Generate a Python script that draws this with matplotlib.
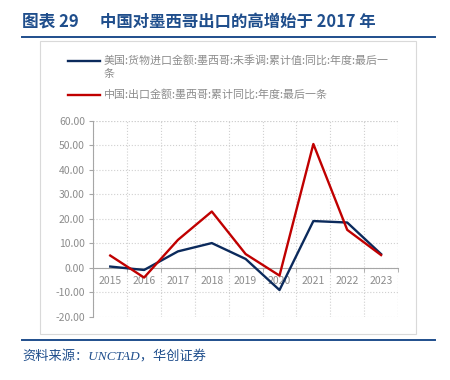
import numpy as np
import matplotlib
matplotlib.use("Agg")
import matplotlib.pyplot as plt
from matplotlib.patches import Rectangle
from matplotlib.lines import Line2D

plt.rcParams['font.family'] = ['Noto Sans CJK SC', 'DejaVu Sans']

# data
years = ["2015", "2016", "2017", "2018", "2019", "2020", "2021", "2022", "2023"]
us_imports = [0.5, -0.9, 6.7, 10.1, 3.6, -9.1, 19.1, 18.5, 5.6]
cn_exports = [5.0, -4.0, 11.4, 23.0, 5.6, -3.2, 50.6, 15.5, 5.2]
yticks = [-20, -10, 0, 10, 20, 30, 40, 50, 60]

label_us = "美国:货物进口金额:墨西哥:未季调:累计值:同比:年度:最后一\n条"
label_cn = "中国:出口金额:墨西哥:累计同比:年度:最后一条"
title_no = "图表 29"
title = "中国对墨西哥出口的高增始于 2017 年"
source = "资料来源：UNCTAD，华创证券"

navy = "#0B2A5C"
red = "#C00000"
header_blue = "#1F4E8C"
gray_txt = "#8C8C8C"

fig = plt.figure(figsize=(4.5, 3.8), dpi=100)
W, H = 450, 380

def fx(px):
   return px / W

def fy(py):
   return 1 - py / H

# header / footer
fig.text(fx(22), fy(22), title_no, fontsize=12, fontweight="bold",
         color=header_blue, va="center", ha="left")
fig.text(fx(100), fy(22), title, fontsize=11.8, fontweight="bold",
         color=header_blue, va="center", ha="left")
fig.add_artist(Line2D([fx(22), fx(435)], [fy(37), fy(37)], color=header_blue, lw=1.4))
fig.add_artist(Line2D([fx(22), fx(435)], [fy(340), fy(340)], color=header_blue, lw=1.4))
fig.text(fx(22), fy(357), source, fontsize=9.5, color=header_blue, va="center",
         ha="left", style="italic", family=["Liberation Serif", "Noto Sans CJK SC"])

# chart frame
fig.add_artist(Rectangle((fx(40), fy(334)), fx(416) - fx(40), fy(41) - fy(334),
                         transform=fig.transFigure, fill=False,
                         edgecolor="#D9D9D9", lw=0.8))

ax = fig.add_axes([fx(93.3), fy(316.7), fx(398) - fx(93.3), fy(121) - fy(316.7)])
x = np.arange(len(years))
l_us, = ax.plot(x, us_imports, color=navy, lw=1.7, zorder=3)
l_cn, = ax.plot(x, cn_exports, color=red, lw=1.7, zorder=4)

ax.set_xlim(-0.5, len(years) - 0.5)
ax.set_ylim(-20, 60)
ax.set_yticks(yticks)
ax.set_yticklabels([f"{v:.2f}" for v in yticks])
ax.set_xticks(x)
ax.set_xticklabels(years)
ax.set_xticks(np.arange(-0.5, len(years)), minor=True)

ax.tick_params(axis="x", which="major", length=0, pad=6, labelsize=7.5, labelcolor=gray_txt)
ax.tick_params(axis="x", which="minor", length=3, direction="out", color="#A6A6A6")
ax.tick_params(axis="y", length=3, direction="out", color="#A6A6A6", pad=3,
               labelsize=7.5, labelcolor=gray_txt)

ax.grid(axis="y", which="major", linestyle=":", color="#D0D0D0", lw=0.8)
ax.grid(axis="x", which="minor", linestyle=":", color="#D0D0D0", lw=0.8)

for s in ["top", "right"]:
   ax.spines[s].set_visible(False)
ax.spines["bottom"].set_position(("data", 0))
ax.spines["bottom"].set_color("#A6A6A6")
ax.spines["left"].set_color("#A6A6A6")
ax.axhline(60, color="#D0D0D0", linestyle=":", lw=0.8)
ax.axvline(len(years) - 0.5, color="#D0D0D0", linestyle=":", lw=0.8)

# legend drawn by hand so the handle sits on the first text line
for line, label, ypx in [(l_us, label_us, 61), (l_cn, label_cn, 95)]:
   fig.add_artist(Line2D([fx(68), fx(100)], [fy(ypx), fy(ypx)],
                         color=line.get_color(), lw=line.get_linewidth()))
   fig.text(fx(104), fy(ypx - 6), label, fontsize=7.9, color=gray_txt,
            va="top", ha="left", linespacing=1.35)

fig.savefig("out.png", dpi=100)
